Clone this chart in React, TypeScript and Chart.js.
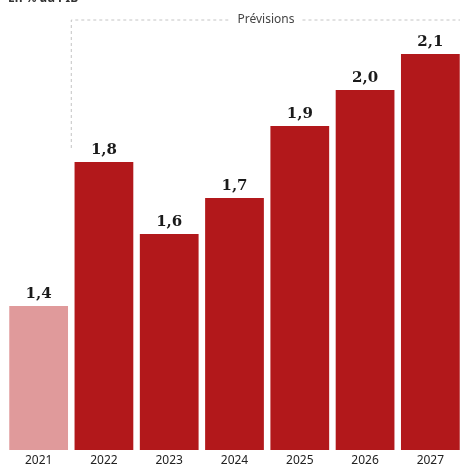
import React, { useEffect, useRef } from "react";
import { Chart, registerables } from "chart.js";

Chart.register(...registerables);

const years = ["2021", "2022", "2023", "2024", "2025", "2026", "2027"];
const values = [1.4, 1.8, 1.6, 1.7, 1.9, 2.0, 2.1];
const valueLabels = ["1,4", "1,8", "1,6", "1,7", "1,9", "2,0", "2,1"];
const barColors = ["#e09a9b", "#b2181b", "#b2181b", "#b2181b", "#b2181b", "#b2181b", "#b2181b"];
const subtitle = "En % du PIB";
const forecastLabel = "Prévisions";
const forecastStart = 1;

const overlayPlugin = {
  id: "overlay",
  afterDatasetsDraw(chart: any) {
    const ctx = chart.ctx;
    const meta = chart.getDatasetMeta(0);
    const xs = chart.scales.x;
    const ys = chart.scales.y;
    ctx.save();
    // value labels
    ctx.font = "bold 15px 'DejaVu Serif'";
    ctx.fillStyle = "#1a1a1a";
    ctx.textAlign = "center";
    ctx.textBaseline = "alphabetic";
    meta.data.forEach((bar: any, i: number) => {
      ctx.fillText(valueLabels[i], bar.x, bar.y - 8);
    });
    // subtitle (cut at top)
    ctx.font = "bold 12px 'Noto Sans'";
    ctx.textAlign = "left";
    ctx.fillStyle = "#333";
    ctx.fillText(subtitle, 8, 2);
    // forecast bracket
    const x0 = (xs.getPixelForValue(forecastStart - 1) + xs.getPixelForValue(forecastStart)) / 2;
    const yTop = 20;
    const yBottom = ys.getPixelForValue(values[forecastStart]) - 14;
    ctx.font = "12px 'Noto Sans'";
    const tw = ctx.measureText(forecastLabel).width;
    const tx = 266;
    ctx.strokeStyle = "#c4c4c4";
    ctx.lineWidth = 1;
    ctx.setLineDash([3, 3]);
    ctx.beginPath();
    ctx.moveTo(x0, yBottom);
    ctx.lineTo(x0, yTop);
    ctx.lineTo(tx - tw / 2 - 8, yTop);
    ctx.moveTo(tx + tw / 2 + 8, yTop);
    ctx.lineTo(chart.width, yTop);
    ctx.stroke();
    ctx.setLineDash([]);
    ctx.fillStyle = "#444";
    ctx.textAlign = "center";
    ctx.textBaseline = "middle";
    ctx.fillText(forecastLabel, tx, yTop);
    ctx.restore();
  },
};

export default function App() {
  const ref = useRef<HTMLCanvasElement>(null);
  useEffect(() => {
    if (!ref.current) return;
    const chart = new Chart(ref.current, {
      type: "bar",
      data: {
        labels: years,
        datasets: [
          {
            data: values,
            backgroundColor: barColors,
            borderWidth: 0,
            barPercentage: 0.9,
            categoryPercentage: 1,
          },
        ],
      },
      options: {
        responsive: false,
        animation: false,
        layout: { padding: { left: 6, right: 1, top: 18, bottom: 0 } },
        plugins: { legend: { display: false }, tooltip: { enabled: false } },
        scales: {
          x: {
            grid: { display: false, drawTicks: false },
            border: { display: false },
            ticks: { color: "#222", font: { family: "'Noto Sans'", size: 12 }, padding: 3 },
            afterFit: (scale: any) => {
              scale.height = 18;
            },
          },
          y: { display: false, min: 1, max: 2.2 },
        },
      },
      plugins: [overlayPlugin],
    });
    return () => chart.destroy();
  }, []);
  return (
    <div style={{ position: "fixed", left: 0, top: 0, width: 460, height: 468, overflow: "hidden", background: "#fff" }}>
      <canvas ref={ref} width={464} height={468} style={{ display: "block" }} />
    </div>
  );
}
